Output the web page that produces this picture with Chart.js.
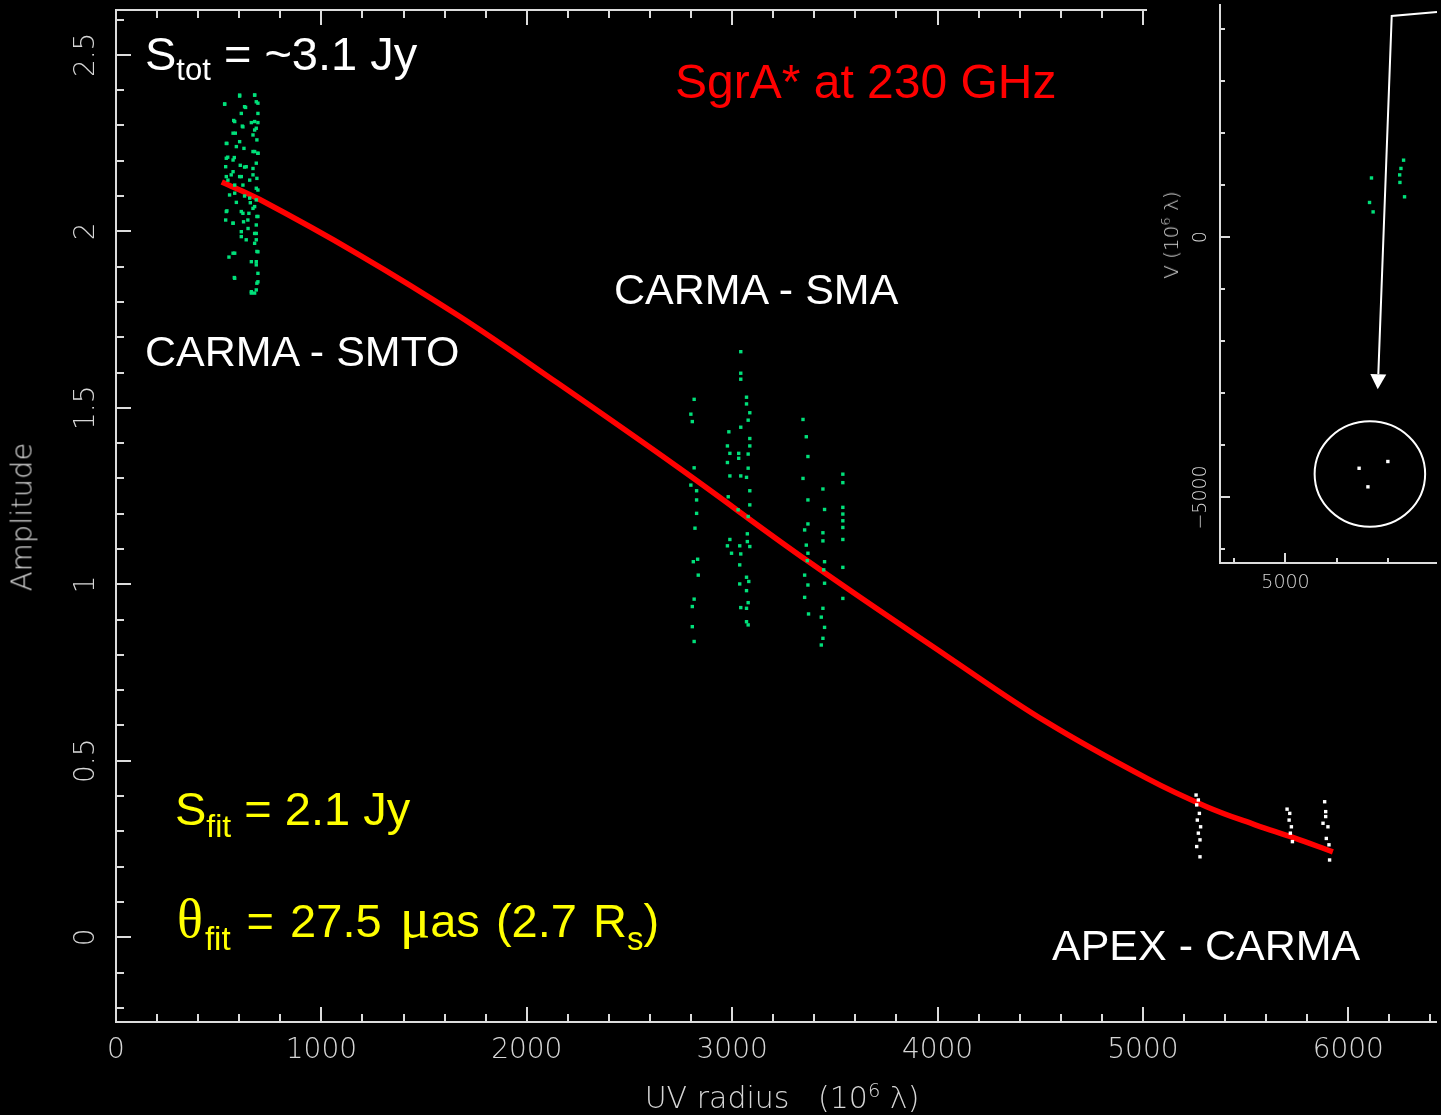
<!DOCTYPE html>
<html>
<head>
<meta charset="utf-8">
<script src="https://cdn.jsdelivr.net/npm/chart.js@4.4.1/dist/chart.umd.min.js"></script>
<style>
  body { margin: 0; background: #000; }
  #wrap { position: relative; width: 1441px; height: 1115px; overflow: hidden; background: #000; }
  canvas { position: absolute; }
  #main { left: 0; top: 0; }
  #inset { left: 1147px; top: 0; background: #000; }
  .lbl { position: absolute; font-family: "Liberation Sans", Arial, sans-serif; line-height: 1; white-space: pre; }
  .sub { position: relative; line-height: 0; }
  .ax { position: absolute; font-family: "DejaVu Sans", sans-serif; font-weight: 200; color: #d6d6d6; line-height: 1; white-space: pre; }
  .ax sup { font-size: 65%; position: relative; top: -2px; vertical-align: top; }
  .serif { font-family: "Liberation Serif", "Times New Roman", serif; line-height: 0; }
</style>
</head>
<body>
<div id="wrap">
  <canvas id="main" width="1441" height="1115"></canvas>
  <canvas id="inset" width="294" height="600"></canvas>

  <div class="lbl" style="left:145px; top:30px; font-size:47px; color:#fff;">S<span class="sub" style="font-size:31px; top:10px;">tot</span> = ~3.1 Jy</div>
  <div class="lbl" style="left:675px; top:58px; font-size:48px; color:#ff0000;">SgrA* at 230 GHz</div>
  <div class="lbl" style="left:614px; top:268px; font-size:43px; color:#fff;">CARMA - SMA</div>
  <div class="lbl" style="left:145px; top:330px; font-size:43px; color:#fff;">CARMA - SMTO</div>
  <div class="lbl" style="left:1052px; top:924px; font-size:43px; color:#fff;">APEX - CARMA</div>
  <div class="lbl" style="left:175px; top:785px; font-size:47px; color:#ffff00;">S<span class="sub" style="font-size:32px; top:12px;">fit</span> = 2.1 Jy</div>
  <div class="lbl" style="left:177px; top:897px; font-size:47px; color:#ffff00; word-spacing:3px;"><span class="serif" style="font-size:54px;">θ</span><span class="sub" style="font-size:33px; top:13px; margin-left:2px;">fit</span> = 27.5 <span class="serif" style="font-size:57px; margin-left:2px;">μ</span>as (2.7 R<span class="sub" style="font-size:33px; top:13px;">s</span>)</div>

  <div class="ax" style="left:22px; top:517px; font-size:29px; transform:translate(-50%,-50%) rotate(-90deg);">Amplitude</div>
  <div class="ax" style="left:782px; top:1098px; font-size:30px; transform:translate(-50%,-50%);">UV radius   (10<sup>6</sup> λ)</div>
  <div class="ax" style="left:1171px; top:235px; font-size:20px; transform:translate(-50%,-50%) rotate(-90deg);">V (10<sup>6</sup> λ)</div>
</div>

<script>
// fitted Gaussian amplitude vs uv radius (10^6 lambda)
const fitU   = [515, 700, 1180, 1670, 2150, 2740, 3370, 4050, 4530, 5020, 5310, 5550, 5730, 5925];
const fitAmp = [2.14, 2.09, 1.935, 1.76, 1.57, 1.33, 1.065, 0.795, 0.61, 0.45, 0.37, 0.318, 0.283, 0.242];

// CARMA - SMTO baselines
const smtoU = [529, 602, 631, 573, 615, 581, 540, 586, 623, 544, 576, 534, 605, 626, 561, 537, 602, 578, 618, 553,
  586, 626, 540, 610, 534, 570, 621, 642, 610, 634, 578, 550, 576, 654, 647,
  675, 683, 691, 675, 683, 667, 686, 675, 691, 683, 667, 686, 691, 683, 675, 686, 683, 675, 683, 686, 683, 691, 686, 675, 659,
  602, 675, 529, 626, 691, 610, 578, 659, 691, 618, 675, 570, 537, 602, 667, 691, 537, 570, 634, 667, 570, 610, 651, 545,
  683, 578, 651, 667, 537, 618, 691, 570, 643, 683, 610, 675, 691, 570, 659, 683, 578, 691, 659, 683];
const smtoAmp = [2.360, 2.383, 2.351, 2.314, 2.298, 2.278, 2.249, 2.240, 2.235, 2.210, 2.209, 2.183, 2.187, 2.182, 2.160, 2.155, 2.155, 2.131, 2.131, 2.103,
  2.082, 2.100, 2.058, 2.056, 2.032, 2.023, 2.027, 2.032, 1.999, 1.976, 1.938, 1.927, 1.869, 2.081, 2.051,
  2.386, 2.367, 2.334, 2.311, 2.292, 2.273, 2.259, 2.226, 2.221, 2.193, 2.160, 2.150, 2.117, 2.089, 2.070, 2.042, 2.018, 1.994, 1.976, 1.943, 1.914, 1.881, 1.853, 1.825, 1.825,
  2.386, 2.386, 2.361, 2.353, 2.363, 2.334, 2.311, 2.308, 2.308, 2.296, 2.287, 2.278, 2.249, 2.254, 2.226, 2.221, 2.207, 2.202, 2.183, 2.178, 2.169, 2.155, 2.145, 2.145,
  2.122, 2.108, 2.094, 2.065, 2.056, 2.051, 2.042, 2.023, 2.008, 1.994, 1.985, 1.966, 1.942, 1.938, 1.914, 1.905, 1.867, 1.857, 1.829, 1.834];

// CARMA - SMA baselines
const smaU = [2815, 2799, 2806, 2815, 2799, 2827, 2827, 2827, 2819, 2811, 2832, 2835, 2815, 2806, 2806, 2815,
  3042, 3042, 3042, 3070, 3070, 3086, 3078, 3042, 2984, 3086, 2977, 3086, 2989, 3032, 3078, 3032, 2977, 3078, 2989, 3042,
  3070, 3086, 2981, 3086, 3029, 3078, 3074, 2989, 2977, 3037, 3074, 3086, 2997, 3042, 3037, 3070, 3081, 3037, 3070, 3078,
  3042, 3070, 3070, 3078,
  3345, 3361, 3369, 3345, 3369, 3369, 3353, 3361, 3369, 3366, 3353, 3369, 3353, 3372,
  3442, 3450, 3442, 3442, 3450, 3446, 3450, 3442, 3434, 3450, 3442, 3434,
  3539, 3539, 3539, 3539, 3539, 3539, 3539, 3539, 3539];
const smaAmp = [1.524, 1.482, 1.461, 1.330, 1.281, 1.265, 1.239, 1.201, 1.159, 1.064, 1.071, 1.026, 0.958, 0.937, 0.880, 0.838,
  1.659, 1.598, 1.581, 1.530, 1.511, 1.486, 1.465, 1.445, 1.432, 1.413, 1.392, 1.392, 1.371, 1.371, 1.369, 1.357, 1.345, 1.329, 1.307, 1.307,
  1.303, 1.265, 1.248, 1.225, 1.211, 1.192, 1.143, 1.127, 1.109, 1.109, 1.121, 1.107, 1.088, 1.086, 1.055, 1.020, 1.008, 1.001, 0.982, 0.948,
  0.934, 0.932, 0.894, 0.885,
  1.467, 1.418, 1.362, 1.300, 1.239, 1.171, 1.154, 1.111, 1.088, 1.067, 1.026, 0.998, 0.963, 0.916,
  1.270, 1.212, 1.146, 1.123, 1.064, 1.041, 1.003, 0.932, 0.907, 0.878, 0.847, 0.828,
  1.312, 1.288, 1.218, 1.199, 1.180, 1.161, 1.127, 1.048, 0.960];

// APEX - CARMA baselines
const apexU = [5259, 5270, 5262, 5275, 5265, 5281, 5270, 5278, 5262, 5278,
  5702, 5715, 5712, 5723, 5718, 5728,
  5885, 5890, 5877, 5901, 5893, 5906, 5909, 5890];
const apexAmp = [0.403, 0.389, 0.375, 0.351, 0.332, 0.313, 0.295, 0.276, 0.257, 0.228,
  0.363, 0.351, 0.332, 0.313, 0.295, 0.271,
  0.384, 0.356, 0.323, 0.313, 0.280, 0.262, 0.219, 0.342];

// uv coverage inset (10^6 lambda)
const uvGreenU = [6675, 6637, 6707, 7300, 7249, 7224, 7229, 7319];
const uvGreenV = [1141, 670, 489, 1483, 1324, 1200, 1055, 779];
const uvWhiteU = [6434, 6994, 6606];
const uvWhiteV = [-4439, -4309, -4796];

// tick labels
const xTicks = [0, 1000, 2000, 3000, 4000, 5000, 6000];
const yTicks = [0, 0.5, 1, 1.5, 2, 2.5];
const insetXTicks = [5000];
const insetYTicks = [0, -5000];

const pts = (xs, ys) => xs.map((v, i) => ({ x: v, y: ys[i] }));

const axisColour = '#dcdcdc';
const labelColour = '#d6d6d6';
const green = '#00e07a';

// PGPLOT-style box: inward ticks on left, bottom and top
const mainFrame = {
  id: 'mainFrame',
  afterDraw(chart) {
    const { ctx, chartArea: a, scales: { x, y } } = chart;
    ctx.save();
    ctx.strokeStyle = axisColour;
    ctx.lineWidth = 2;
    ctx.beginPath();
    ctx.moveTo(a.right, a.top); ctx.lineTo(a.left, a.top);
    ctx.lineTo(a.left, a.bottom); ctx.lineTo(a.right, a.bottom);
    for (let v = 0; v <= x.max; v += 200) {
      const px = Math.round(x.getPixelForValue(v));
      const len = v % 1000 === 0 ? 15 : 8;
      ctx.moveTo(px, a.bottom); ctx.lineTo(px, a.bottom - len);
      ctx.moveTo(px, a.top); ctx.lineTo(px, a.top + len);
    }
    for (let i = -2; i <= 26; i++) {
      const py = Math.round(y.getPixelForValue(i / 10));
      const len = i % 5 === 0 ? 15 : 8;
      ctx.moveTo(a.left, py); ctx.lineTo(a.left + len, py);
    }
    ctx.stroke();

    ctx.fillStyle = labelColour;
    ctx.font = '200 28px "DejaVu Sans"';
    ctx.textAlign = 'center';
    ctx.textBaseline = 'middle';
    xTicks.forEach(v => ctx.fillText(String(v), x.getPixelForValue(v), a.bottom + 29));
    yTicks.forEach(v => {
      ctx.save();
      ctx.translate(a.left - 29, y.getPixelForValue(v));
      ctx.rotate(-Math.PI / 2);
      ctx.fillText(String(v), 0, 0);
      ctx.restore();
    });
    ctx.restore();
  }
};

new Chart(document.getElementById('main'), {
  type: 'scatter',
  data: {
    datasets: [
      { label: 'CARMA - SMTO', data: pts(smtoU, smtoAmp), pointStyle: 'rect', pointRadius: 2.4, borderWidth: 0, backgroundColor: green },
      { label: 'CARMA - SMA', data: pts(smaU, smaAmp), pointStyle: 'rect', pointRadius: 2.4, borderWidth: 0, backgroundColor: green },
      { label: 'APEX - CARMA', data: pts(apexU, apexAmp), pointStyle: 'rect', pointRadius: 2.4, borderWidth: 0, backgroundColor: '#ffffff' },
      { label: 'Gaussian fit', type: 'line', data: pts(fitU, fitAmp), showLine: true, pointRadius: 0,
        borderColor: '#ff0000', borderWidth: 5.5, tension: 0.4, fill: false }
    ]
  },
  options: {
    responsive: false,
    animation: false,
    layout: { padding: { left: 116, top: 10, right: 0, bottom: 93 } },
    plugins: { legend: { display: false }, tooltip: { enabled: false } },
    scales: {
      x: { type: 'linear', display: false, min: 0, max: 6432 },
      y: { type: 'linear', display: false, min: -0.240, max: 2.627 }
    }
  },
  plugins: [mainFrame]
});

// uv-plane inset: ring and pointer around the APEX baselines
const uvRing = { u: 6644, v: -4548, ru: 1076, rv: 1013 };
const pointerPath = [[7951, 4332], [7069, 4256], [6797, -2920]];

const insetFrame = {
  id: 'insetFrame',
  afterDraw(chart) {
    const { ctx, chartArea: a, scales: { x, y } } = chart;
    ctx.save();
    ctx.strokeStyle = axisColour;
    ctx.lineWidth = 2;
    ctx.beginPath();
    ctx.moveTo(a.left, a.top); ctx.lineTo(a.left, a.bottom); ctx.lineTo(a.right, a.bottom);
    for (let v = -6000; v <= 4000; v += 1000) {
      const py = Math.round(y.getPixelForValue(v));
      const len = v % 5000 === 0 ? 10 : 5;
      ctx.moveTo(a.left, py); ctx.lineTo(a.left + len, py);
    }
    for (let v = 4000; v <= x.max; v += 1000) {
      const px = Math.round(x.getPixelForValue(v));
      const len = v % 5000 === 0 ? 10 : 5;
      ctx.moveTo(px, a.bottom); ctx.lineTo(px, a.bottom - len);
    }
    ctx.stroke();

    ctx.fillStyle = labelColour;
    ctx.font = '200 19px "DejaVu Sans"';
    ctx.textAlign = 'center';
    ctx.textBaseline = 'middle';
    insetXTicks.forEach(v => ctx.fillText(String(v), x.getPixelForValue(v), a.bottom + 20));
    insetYTicks.forEach(v => {
      ctx.save();
      ctx.translate(a.left - 19, y.getPixelForValue(v));
      ctx.rotate(-Math.PI / 2);
      ctx.fillText(String(v).replace('-', '\u2212'), 0, 0);
      ctx.restore();
    });

    // ring
    ctx.strokeStyle = '#ffffff';
    ctx.beginPath();
    const cx = x.getPixelForValue(uvRing.u), cy = y.getPixelForValue(uvRing.v);
    const rx = x.getPixelForValue(uvRing.u + uvRing.ru) - cx;
    const ry = cy - y.getPixelForValue(uvRing.v + uvRing.rv);
    ctx.ellipse(cx, cy, rx, ry, 0, 0, Math.PI * 2);
    ctx.stroke();

    // pointer with arrow head
    const p = pointerPath.map(([u, v]) => [x.getPixelForValue(u), y.getPixelForValue(v)]);
    const [tx, ty] = p[p.length - 1];
    const [sx, sy] = p[p.length - 2];
    const ang = Math.atan2(ty - sy, tx - sx);
    const headLen = 15, headHalf = 8;
    const bx = tx - headLen * Math.cos(ang), by = ty - headLen * Math.sin(ang);
    ctx.beginPath();
    ctx.moveTo(p[0][0], p[0][1]);
    for (let i = 1; i < p.length - 1; i++) ctx.lineTo(p[i][0], p[i][1]);
    ctx.lineTo(bx, by);
    ctx.stroke();
    ctx.fillStyle = '#ffffff';
    ctx.beginPath();
    ctx.moveTo(tx, ty);
    ctx.lineTo(bx + headHalf * Math.sin(ang), by - headHalf * Math.cos(ang));
    ctx.lineTo(bx - headHalf * Math.sin(ang), by + headHalf * Math.cos(ang));
    ctx.closePath();
    ctx.fill();
    ctx.restore();
  }
};

new Chart(document.getElementById('inset'), {
  type: 'scatter',
  data: {
    datasets: [
      { label: 'SMTO / SMA', data: pts(uvGreenU, uvGreenV), pointStyle: 'rect', pointRadius: 2.4, borderWidth: 0, backgroundColor: green },
      { label: 'APEX', data: pts(uvWhiteU, uvWhiteV), pointStyle: 'rect', pointRadius: 2.4, borderWidth: 0, backgroundColor: '#ffffff' }
    ]
  },
  options: {
    responsive: false,
    animation: false,
    layout: { padding: { left: 73, top: 0, right: 0, bottom: 37 } },
    plugins: { legend: { display: false }, tooltip: { enabled: false } },
    scales: {
      x: { type: 'linear', display: false, min: 3725, max: 7951 },
      y: { type: 'linear', display: false, min: -6260, max: 4485 }
    }
  },
  plugins: [insetFrame]
});
</script>
</body>
</html>
